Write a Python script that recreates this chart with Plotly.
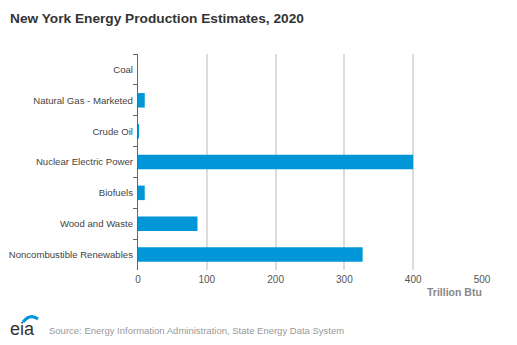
import plotly.graph_objects as go

categories = ["Coal", "Natural Gas - Marketed", "Crude Oil", "Nuclear Electric Power",
              "Biofuels", "Wood and Waste", "Noncombustible Renewables"]
values = [0, 9.8, 1.0, 400, 9.8, 86.5, 326.5]
tick_vals = [0, 100, 200, 300, 400, 500]

W, H = 517, 345
L, R, T, B = 138, 35, 54, 75
pw, ph = W - L - R, H - T - B

def px(x):
    return (x - L) / pw

def py(y):
    return (H - B - y) / ph

fig = go.Figure(go.Bar(
    x=values, y=categories, orientation="h",
    marker=dict(color="#0096d7", line=dict(width=0)),
    width=0.47,
))

font = "Liberation Sans, Arial, sans-serif"
fig.update_layout(
    width=W, height=H,
    margin=dict(l=L, r=R, t=T, b=B, autoexpand=False),
    paper_bgcolor="white", plot_bgcolor="white",
    showlegend=False,
    font=dict(family=font, color="#444", size=10),
    title=dict(text="<b>New York Energy Production Estimates, 2020</b>",
               xref="container", yref="container", x=10 / W, xanchor="left",
               y=1 - 18 / H, yanchor="middle",
               font=dict(family=font, size=13.7, color="#333")),
    xaxis=dict(range=[0, 500], tickvals=tick_vals, showgrid=True, automargin=False,
               gridcolor="#dcdcdc", gridwidth=1.5, zeroline=False, showline=False,
               ticks="", ticklabelstandoff=2,
               tickfont=dict(size=10, color="#555")),
    yaxis=dict(categoryorder="array", categoryarray=categories, autorange="reversed",
               showline=True, linecolor="#666", linewidth=1.2, automargin=False,
               ticks="outside", tickson="boundaries", ticklen=4, tickcolor="#666",
               ticklabelstandoff=2, showgrid=False,
               tickfont=dict(size=9.6, color="#444")),
    bargap=0.53,
)

fig.add_annotation(text="<b>Trillion Btu</b>", xref="paper", yref="paper",
                   x=px(484), y=py(292), xanchor="right", yanchor="middle",
                   showarrow=False, font=dict(family=font, size=10.5, color="#888"))

fig.add_annotation(text="Source: Energy Information Administration, State Energy Data System",
                   xref="paper", yref="paper", x=px(47), y=py(330),
                   xanchor="left", yanchor="middle", showarrow=False,
                   font=dict(family=font, size=9.5, color="#999"))

# eia logo
fig.add_annotation(text="eia", xref="paper", yref="paper", x=px(22), y=py(329),
                   xanchor="center", yanchor="middle", showarrow=False,
                   font=dict(family=font, size=18, color="#333"))
fig.add_shape(type="path",
              path=f"M {px(23)},{py(322)} Q {px(30)},{py(313)} {px(38)},{py(319)}",
              xref="paper", yref="paper", line=dict(color="#0096d7", width=3))

fig.write_html("out.html")
